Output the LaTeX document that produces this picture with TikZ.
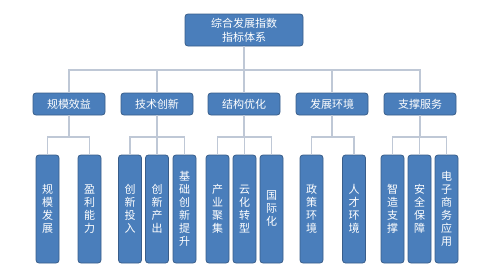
\documentclass[tikz,border=0pt]{standalone}
\usepackage{fontspec}
\setmainfont{Noto Sans CJK SC}
\definecolor{bf}{HTML}{4A7EBB}
\definecolor{bd}{HTML}{385D8A}
\definecolor{ln}{HTML}{BFC8D6}
\begin{document}
\begin{tikzpicture}[x=1pt,y=-1pt,
  box/.style={draw=bd, fill=bf, rounded corners=3pt, text=white, inner sep=0pt, line width=0.8pt, align=center},
  rootbox/.style={box, minimum width=118pt, minimum height=32pt, font=\fontsize{11}{14}\selectfont},
  midbox/.style={box, minimum width=72pt, minimum height=22pt, font=\fontsize{11}{13}\selectfont},
  leafbox/.style={box, minimum width=23pt, minimum height=108pt, font=\fontsize{11}{13}\selectfont},
  conn/.style={draw=ln, line width=1.2pt}]
\useasboundingbox (0,0) rectangle (499,273);
\coordinate (busA) at (0,70);
\coordinate (busB) at (0,137);

\node[rootbox] (root) at (244,30) {综合发展指数\\指标体系};

\node[midbox] (m1) at (69,104) {规模效益};
\node[midbox] (m2) at (157,104) {技术创新};
\node[midbox] (m3) at (244,104) {结构优化};
\node[midbox] (m4) at (332,104) {发展环境};
\node[midbox] (m5) at (420,104) {支撑服务};

\node[leafbox] (l11) at (47.5,209) {规\\模\\发\\展};
\node[leafbox] (l12) at (89.5,209) {盈\\利\\能\\力};
\node[leafbox] (l21) at (130,209) {创\\新\\投\\入};
\node[leafbox] (l22) at (157,209) {创\\新\\产\\出};
\node[leafbox] (l23) at (184.5,209) {基\\础\\创\\新\\提\\升};
\node[leafbox] (l31) at (217.5,209) {产\\业\\聚\\集};
\node[leafbox] (l32) at (244.5,209) {云\\化\\转\\型};
\node[leafbox] (l33) at (271.5,209) {国\\际\\化};
\node[leafbox] (l41) at (311.5,209) {政\\策\\环\\境};
\node[leafbox] (l42) at (354,209) {人\\才\\环\\境};
\node[leafbox] (l51) at (392.5,209) {智\\造\\支\\撑};
\node[leafbox] (l52) at (419.5,209) {安\\全\\保\\障};
\node[leafbox] (l53) at (446.5,209) {电\\子\\商\\务\\应\\用};

\foreach \m in {m1,m2,m3,m4,m5}
  \draw[conn] (root.south) -- (root.south |- busA) -| (\m.north);

\foreach \m/\l in {m1/l11,m1/l12,m2/l21,m2/l22,m2/l23,m3/l31,m3/l32,m3/l33,m4/l41,m4/l42,m5/l51,m5/l52,m5/l53}
  \draw[conn] (\m.south) -- (\m.south |- busB) -| (\l.north);
\end{tikzpicture}
\end{document}
